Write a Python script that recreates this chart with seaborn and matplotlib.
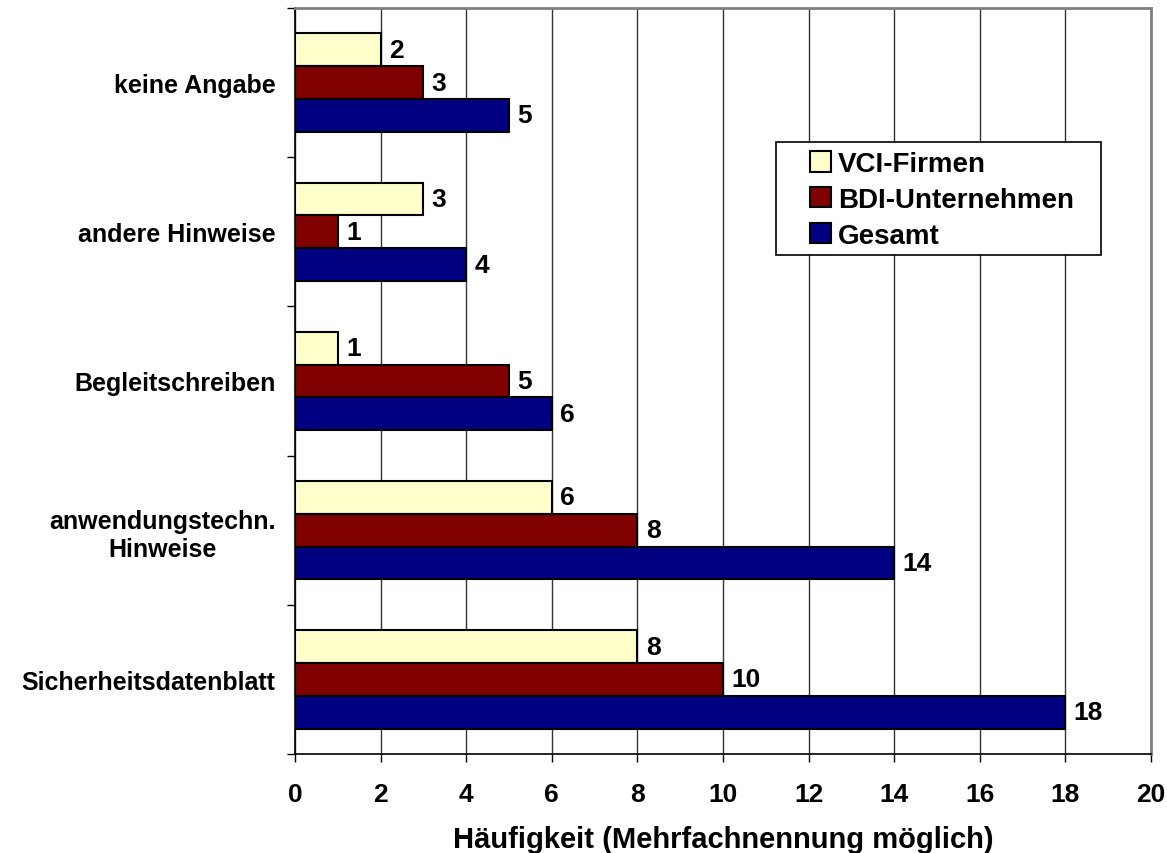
import pandas as pd
import matplotlib.pyplot as plt
import seaborn as sns
from matplotlib.patches import Rectangle

# Data
categories = ["keine Angabe", "andere Hinweise", "Begleitschreiben",
              "anwendungstechn.\nHinweise", "Sicherheitsdatenblatt"]
series = ["VCI-Firmen", "BDI-Unternehmen", "Gesamt"]
vci = [2, 3, 1, 6, 8]
bdi = [3, 1, 5, 8, 10]
gesamt = [5, 4, 6, 14, 18]
x_ticks = list(range(0, 21, 2))

colors = ["#FFFFCC", "#800000", "#000080"]

df = pd.DataFrame({
    "Kategorie": categories * 3,
    "Serie": [s for s in series for _ in categories],
    "Wert": vci + bdi + gesamt,
})

sns.set_style("white")
plt.rcParams["font.family"] = ["Liberation Sans", "DejaVu Sans"]
plt.rcParams["font.weight"] = "bold"
plt.rcParams["text.color"] = "black"
plt.rcParams["axes.labelcolor"] = "black"
plt.rcParams["xtick.color"] = "black"
plt.rcParams["ytick.color"] = "black"

fig = plt.figure(figsize=(11.67, 8.54), dpi=100)
ax = fig.add_axes([0.2528, 0.1159, 0.7335, 0.8736])

sns.barplot(data=df, y="Kategorie", x="Wert", hue="Serie", order=categories,
            hue_order=series, palette=colors, orient="h", width=0.66,
            edgecolor="black", linewidth=1.5, saturation=1, ax=ax, zorder=3)

for container in ax.containers:
    ax.bar_label(container, padding=6, fontsize=19, fontweight="bold", color="black")

ax.set_xlim(0, 20)
ax.set_ylim(4.5, -0.5)
ax.set_xticks(x_ticks)
ax.xaxis.grid(True, color="#333333", linewidth=1, zorder=0)
ax.set_axisbelow(True)

# category ticks sit between the groups
ax.set_yticks([i - 0.5 for i in range(len(categories) + 1)], minor=True)
ax.tick_params(axis="y", which="major", length=0, pad=14, labelsize=18, labelcolor="black")
ax.tick_params(axis="y", which="minor", left=True, length=6, width=1, color="black")
ax.tick_params(axis="x", bottom=True, length=6, width=1, color="black", pad=14,
               labelsize=19, labelcolor="black")
for lbl in ax.get_yticklabels():
    lbl.set_fontweight("bold")
    lbl.set_multialignment("center")
for lbl in ax.get_xticklabels():
    lbl.set_fontweight("bold")

ax.set_ylabel("")
ax.set_xlabel("Häufigkeit (Mehrfachnennung möglich)", fontsize=21,
              fontweight="bold", labelpad=14, color="black")

for side in ["left", "bottom"]:
    ax.spines[side].set_color("black")
    ax.spines[side].set_linewidth(1.2)
for side in ["top", "right"]:
    ax.spines[side].set_visible(True)
    ax.spines[side].set_color("#808080")
    ax.spines[side].set_linewidth(2)

# legend box drawn separately: wide side padding, tight top/bottom
ax.add_patch(Rectangle((0.562, 0.669), 0.380, 0.1515, transform=ax.transAxes,
                       facecolor="white", edgecolor="black", linewidth=1.2, zorder=4))
leg = ax.legend(loc="upper left", bbox_to_anchor=(0.6016, 0.808), borderaxespad=0,
                frameon=False, handlelength=0.75, handleheight=0.75,
                handletextpad=0.25, labelspacing=0.35, borderpad=0,
                prop={"size": 20, "weight": "bold"})
leg.set_zorder(5)

plt.savefig("out.png", dpi=100)
plt.close()
